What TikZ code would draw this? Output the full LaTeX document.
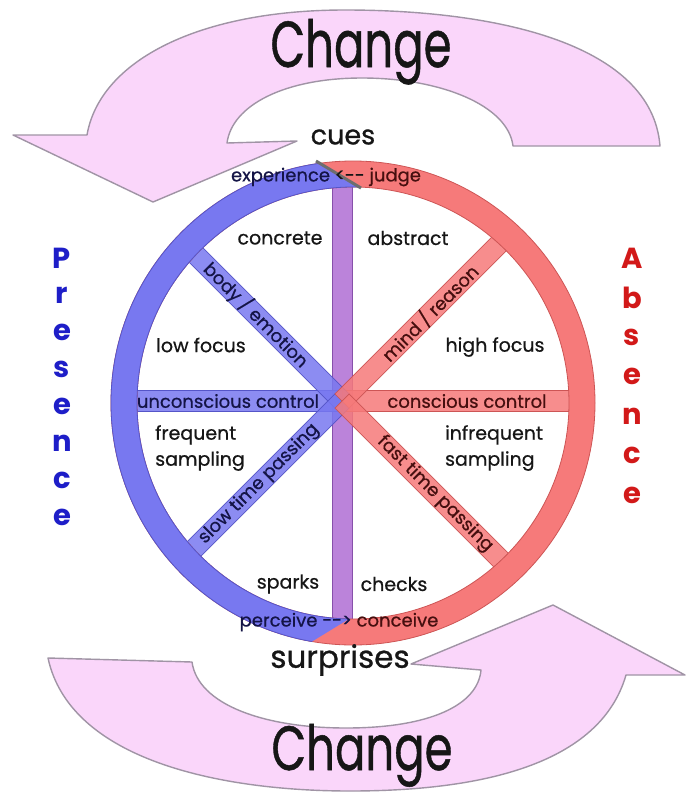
\documentclass[tikz,border=0pt]{standalone}
\usepackage{fontspec}
\setmainfont{Poppins}
\newfontfamily\lblfont{Poppins}[FakeBold=0.6]
\newfontfamily\bigfont{Poppins}[FakeBold=0.8]
\usetikzlibrary{calc}
\definecolor{pinkfill}{RGB}{250,214,250}
\definecolor{arrowline}{RGB}{160,148,165}
\definecolor{ringblue}{RGB}{120,120,240}
\definecolor{ringred}{RGB}{246,122,122}
\definecolor{lineblue}{RGB}{85,85,200}
\definecolor{linered}{RGB}{205,85,85}
\definecolor{spokepurple}{RGB}{180,118,215}
\definecolor{linepurple}{RGB}{135,80,170}
\definecolor{presblue}{RGB}{30,30,200}
\definecolor{absred}{RGB}{210,25,25}
\definecolor{txt}{RGB}{22,22,22}
\definecolor{txtblue}{RGB}{20,20,70}
\definecolor{txtred}{RGB}{70,15,15}
\definecolor{cutgrey}{RGB}{110,110,110}
\tikzset{
  bigarrow/.style={fill=pinkfill, draw=arrowline, line width=1.4pt, line join=round},
  spokeB/.style={fill=ringblue, fill opacity=0.85, draw=lineblue, line width=0.7pt},
  spokeR/.style={fill=ringred, fill opacity=0.85, draw=linered, line width=0.7pt},
  spokeP/.style={fill=spokepurple, fill opacity=0.9, draw=linepurple, line width=0.7pt},
  lbl/.style={text=txt, font=\lblfont\fontsize{19}{26}\selectfont, inner sep=0pt},
  spokelbl/.style={font=\lblfont\fontsize{18}{20}\selectfont, inner sep=0pt},
  bigword/.style={text=txt, font=\bigfont\fontsize{28}{32}\selectfont, inner sep=0pt},
  changeword/.style={text=txt, font=\bigfont\fontsize{50}{56}\selectfont, inner sep=0pt, anchor=base},
  presletter/.style={text=presblue, font=\bfseries\fontsize{29}{30}\selectfont, inner sep=0pt},
  absletter/.style={text=absred, font=\bfseries\fontsize{29}{30}\selectfont, inner sep=0pt},
}
\begin{document}
\begin{tikzpicture}[x=1pt,y=-1pt]
\useasboundingbox (0,0) rectangle (686,793);
\fill[white] (0,0) rectangle (686,793);

% ---------- big curved arrows ----------
\draw[bigarrow] (660,146) .. controls (652,45) and (500,10) .. (345,10)
  .. controls (200,10) and (100,60) .. (87,135) -- (13,135) -- (153,202)
  -- (297,141) -- (227,143) .. controls (232,105) and (285,78) .. (362,78)
  .. controls (440,78) and (508,105) .. (513,146) -- cycle;
\draw[bigarrow] (48,658) -- (192,662) .. controls (198,705) and (265,728) .. (346,728)
  .. controls (430,728) and (478,705) .. (481,670) -- (411,664) -- (553,605)
  -- (685,675) -- (626,675) .. controls (600,765) and (480,791) .. (350,791)
  .. controls (220,791) and (70,760) .. (48,658) -- cycle;

% ---------- spokes ----------
\coordinate (hub) at (342,401);
\coordinate (rc) at (353,403);
\draw[spokeP] (332,180) rectangle (352,626);
\draw[spokeB] (120,390.5) rectangle (342,411.5);
\draw[spokeR] (342,390.5) rectangle (585,411.5);
\begin{scope}[shift={(hub)}, rotate=135]
  \draw[spokeB] (0,-10) rectangle (222,10);
\end{scope}
\begin{scope}[shift={(hub)}, rotate=225]
  \draw[spokeB] (0,-10) rectangle (222,10);
\end{scope}
\begin{scope}[shift={(hub)}, rotate=45]
  \draw[spokeR] (0,-10) rectangle (236,10);
\end{scope}
\begin{scope}[shift={(hub)}, rotate=-45]
  \draw[spokeR] (0,-10) rectangle (238,10);
\end{scope}

% ---------- ring ----------
\fill[ringred, even odd rule] (rc) circle[radius=242pt] (rc) circle[radius=216pt];
\draw[linered, line width=0.8pt] (rc) circle[radius=242pt] (rc) circle[radius=216pt];
\begin{scope}
  \clip (290,655) -- (375,603) -- (375,196) -- (290,146) -- (0,146) -- (0,655) -- cycle;
  \fill[ringblue, even odd rule] (rc) circle[radius=242pt] (rc) circle[radius=216pt];
  \draw[lineblue, line width=0.8pt] (rc) circle[radius=242pt] (rc) circle[radius=216pt];
\end{scope}
\draw[cutgrey, line width=3pt] (316,161) -- (361,188);

% ---------- texts ----------
\node[changeword] (change1) at (361,67) {\scalebox{0.9}[1.3]{Change}};
\node[changeword] (change2) at (362,770) {\scalebox{0.9}[1.25]{Change}};
\node[bigword, font=\bigfont\fontsize{27}{30}\selectfont] (cues) at (343,137) {cues};
\node[bigword, font=\bigfont\fontsize{31}{34}\selectfont] (surprises) at (340,660) {surprises};

\node[spokelbl] (expjudge) at (326,177) {\color{txtblue}experience \color{txt}<-{}- \color{txtred}judge};
\node[spokelbl] (percon) at (339,622) {\color{txtblue}perceive -{}-> \color{txtred}conceive};

\node[lbl] (concrete) at (280,238) {concrete};
\node[lbl] (abstract) at (408,238) {abstract};
\node[lbl] (lowfocus) at (201,345) {low focus};
\node[lbl] (highfocus) at (495,347) {high focus};
\node[lbl, align=left] (freq) at (200,448) {frequent\\sampling};
\node[lbl, align=left] (infreq) at (494,448) {infrequent\\sampling};
\node[lbl] (sparks) at (288,584) {sparks};
\node[lbl] (checks) at (394,584) {checks};

\node[spokelbl, text=txtblue] (uncon) at (228,401) {unconscious control};
\node[spokelbl, text=txtred] (con) at (467,401) {conscious control};
\node[spokelbl, text=txtblue, rotate=-45] (body) at (256,315) {body / emotion};
\node[spokelbl, text=txtred, rotate=45] (mind) at (430,313) {mind / reason};
\node[spokelbl, text=txtblue, rotate=45] (slow) at (259,484) {slow time passing};
\node[spokelbl, text=txtred, rotate=-45] (fast) at (435,494) {fast time passing};

% ---------- Presence / Absence ----------
\foreach \ch [count=\i from 0] in {P,r,e,s,e,n,c,e} {
  \node[presletter] (pres\i) at (62,258+37*\i) {\ch};
}
\foreach \ch [count=\i from 0] in {A,b,s,e,n,c,e} {
  \node[absletter] (abs\i) at (632,258+39.5*\i) {\ch};
}
\end{tikzpicture}
\end{document}
